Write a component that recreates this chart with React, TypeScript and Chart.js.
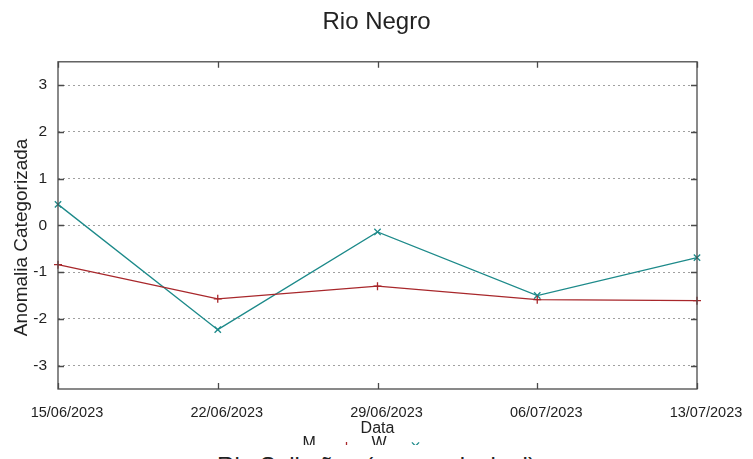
import React, { useEffect, useRef } from "react";
import { Chart, registerables } from "chart.js";

Chart.register(...registerables);

const chartTitle = "Rio Negro";
const nextTitle = "Rio Solimões (curso principal)";
const xAxisTitle = "Data";
const yAxisTitle = "Anomalia Categorizada";
const dates = ["15/06/2023", "22/06/2023", "29/06/2023", "06/07/2023", "13/07/2023"];
const seriesNames = ["M", "W"];
const seriesM = [-0.84, -1.57, -1.3, -1.59, -1.61];
const seriesW = [0.45, -2.23, -0.14, -1.5, -0.69];
const yTickValues = [-3, -2, -1, 0, 1, 2, 3];
const yMin = -3.5;
const yMax = 3.5;

const RED = "#a8272b";
const TEAL = "#1d8a8a";
const FRAME = "#4a4a4a";
const FONT = '"Liberation Sans", Arial, sans-serif';

function drawMarker(ctx: any, style: string, x: number, y: number, r: number) {
  ctx.beginPath();
  if (style === "cross") {
    ctx.moveTo(x - r, y);
    ctx.lineTo(x + r, y);
    ctx.moveTo(x, y - r);
    ctx.lineTo(x, y + r);
  } else {
    const d = r * 0.8;
    ctx.moveTo(x - d, y - d);
    ctx.lineTo(x + d, y + d);
    ctx.moveTo(x - d, y + d);
    ctx.lineTo(x + d, y - d);
  }
  ctx.stroke();
}

const framePlugin = {
  id: "frameTicks",
  afterDraw(chart: any) {
    const { ctx, chartArea } = chart;
    const { left, right, top, bottom } = chartArea;
    ctx.save();
    ctx.strokeStyle = FRAME;
    ctx.lineWidth = 1.3;
    const yScale = chart.scales.y;
    const xScale = chart.scales.x;
    ctx.beginPath();
    yScale.ticks.forEach((t: any) => {
      const py = Math.round(yScale.getPixelForValue(t.value)) + 0.5;
      ctx.moveTo(left, py);
      ctx.lineTo(left + 6, py);
      ctx.moveTo(right, py);
      ctx.lineTo(right - 6, py);
    });
    xScale.ticks.forEach((_t: any, i: number) => {
      const px = Math.round(xScale.getPixelForTick(i)) + 0.5;
      ctx.moveTo(px, bottom);
      ctx.lineTo(px, bottom - 6);
      ctx.moveTo(px, top);
      ctx.lineTo(px, top + 6);
    });
    ctx.stroke();
    ctx.strokeRect(left, top, right - left, bottom - top);

    // y axis title
    ctx.save();
    ctx.fillStyle = "#222";
    ctx.font = "19px " + FONT;
    ctx.textAlign = "center";
    ctx.textBaseline = "middle";
    ctx.translate(22, (top + bottom) / 2 + 12);
    ctx.rotate(-Math.PI / 2);
    ctx.fillText(yAxisTitle, 0, 0);
    ctx.restore();

    // gnuplot-like key below the axis title: text, then sample line with point
    const datasets = chart.data.datasets;
    const entryWidth = 69;
    let x0 = (left + right) / 2 - 75;
    const baseY = bottom + 59;
    ctx.font = "16px " + FONT;
    ctx.textAlign = "left";
    ctx.textBaseline = "alphabetic";
    datasets.forEach((ds: any) => {
      ctx.fillStyle = "#222";
      ctx.fillText(ds.label, x0, baseY);
      const mx = x0 + 44;
      const my = baseY - 2;
      ctx.strokeStyle = ds.borderColor;
      ctx.lineWidth = 1.3;
      ctx.beginPath();
      ctx.moveTo(mx - 22, my);
      ctx.lineTo(mx + 22, my);
      ctx.stroke();
      drawMarker(ctx, ds.pointStyle, mx, my, ds.pointRadius);
      x0 += entryWidth;
    });
    ctx.restore();
  },
};

export default function App() {
  const ref = useRef<HTMLCanvasElement>(null);
  useEffect(() => {
    document.body.style.margin = "0";
    const canvas = ref.current!;
    const chart = new Chart(canvas, {
      type: "line",
      data: {
        labels: dates,
        datasets: [
          {
            label: seriesNames[0],
            data: seriesM,
            borderColor: RED,
            backgroundColor: RED,
            borderWidth: 1.3,
            pointStyle: "cross",
            pointRadius: 4,
            pointBorderWidth: 1.3,
            pointBorderColor: RED,
            tension: 0,
            fill: false,
          },
          {
            label: seriesNames[1],
            data: seriesW,
            borderColor: TEAL,
            backgroundColor: TEAL,
            borderWidth: 1.3,
            pointStyle: "crossRot",
            pointRadius: 4.5,
            pointBorderWidth: 1.3,
            pointBorderColor: TEAL,
            tension: 0,
            fill: false,
          },
        ],
      },
      options: {
        responsive: false,
        animation: false,
        events: [],
        layout: { padding: { left: 0, right: 0, top: 0, bottom: 11 } },
        plugins: {
          tooltip: { enabled: false },
          legend: { display: false },
          title: {
            display: true,
            text: chartTitle,
            color: "#222",
            font: { family: FONT, size: 24, weight: "normal" },
            padding: { top: 8, bottom: 25 },
          },
        },
        scales: {
          x: {
            type: "category",
            offset: false,
            grid: { display: false, drawTicks: false },
            border: { display: false },
            ticks: {
              autoSkip: false,
              maxRotation: 0,
              labelOffset: 9,
              padding: 15,
              color: "#222",
              font: { family: FONT, size: 14.5 },
            },
            title: {
              display: true,
              text: xAxisTitle,
              color: "#222",
              padding: { top: 0, bottom: -4 },
              font: { family: FONT, size: 16 },
            },
            afterFit(s: any) {
              s.height = 45;
            },
          },
          y: {
            type: "linear",
            min: yMin,
            max: yMax,
            grid: { display: true, drawTicks: false, color: "#a0a0a0", lineWidth: 1 },
            border: { display: false, dash: [2, 3] },
            ticks: {
              padding: 11,
              color: "#222",
              font: { family: FONT, size: 15.5 },
            },
            afterBuildTicks(s: any) {
              s.ticks = yTickValues.map((v) => ({ value: v }));
            },
            afterFit(s: any) {
              s.width = 58;
            },
          },
          yRight: {
            type: "linear",
            position: "right",
            min: yMin,
            max: yMax,
            display: true,
            grid: { display: false, drawTicks: false },
            border: { display: false },
            ticks: { display: false },
            afterFit(s: any) {
              s.width = 56;
            },
          },
        },
      },
      plugins: [framePlugin],
    });
    return () => chart.destroy();
  }, []);

  return (
    <div style={{ width: 753, height: 459, overflow: "hidden", background: "#fff" }}>
      <div style={{ width: 753, height: 445, overflow: "hidden", background: "#fff" }}>
        <canvas ref={ref} width={753} height={445} style={{ display: "block", width: 753, height: 445 }} />
      </div>
      <div
        style={{
          width: 753,
          height: 60,
          background: "#fff",
          textAlign: "center",
          fontFamily: FONT,
          fontSize: 24,
          lineHeight: "28px",
          paddingTop: 7,
          color: "#222",
          boxSizing: "border-box",
        }}
      >
        {nextTitle}
      </div>
    </div>
  );
}
